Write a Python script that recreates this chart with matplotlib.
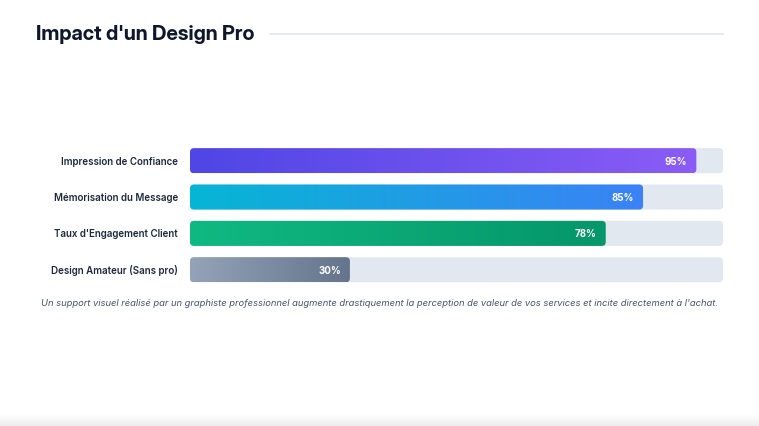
import numpy as np
import matplotlib.pyplot as plt
from matplotlib.patches import FancyBboxPatch
from matplotlib.colors import LinearSegmentedColormap

plt.rcParams["font.family"] = ["Inter", "DejaVu Sans"]

categories = [
    "Impression de Confiance",
    "Mémorisation du Message",
    "Taux d'Engagement Client",
    "Design Amateur (Sans pro)",
]
values = [95, 85, 78, 30]
gradients = [
    ("#4F46E5", "#8B5CF6"),
    ("#06B6D4", "#3B82F6"),
    ("#10B981", "#059669"),
    ("#94A3B8", "#64748B"),
]
title = "Impact d'un Design Pro"
caption = ("Un support visuel réalisé par un graphiste professionnel augmente drastiquement "
           "la perception de valeur de vos services et incite directement à l'achat.")

W, H = 759, 427
fig = plt.figure(figsize=(W / 100, H / 100), dpi=100)
fig.patch.set_facecolor("white")

# bar area in pixels: x 190..723, rows centred at 161..270
left, right = 190, 723
y_top, y_bot = 143.5, 288.9
ax = fig.add_axes([left / W, 1 - y_bot / H, (right - left) / W, (y_bot - y_top) / H])
ax.set_xlim(0, 100)
ax.set_ylim(len(categories) - 0.5, -0.5)
ax.axis("off")

bar_h = 0.69
px_x = (right - left) / 100
px_y = (y_bot - y_top) / len(categories)
aspect = px_x / px_y
radius = 4 / px_x


def rounded(x0, y0, w, h, color="none"):
    return FancyBboxPatch(
        (x0, y0), w, h,
        boxstyle=f"round,pad=0,rounding_size={radius}",
        mutation_aspect=aspect,
        facecolor=color, edgecolor="none",
    )


for i, (name, val, (c0, c1)) in enumerate(zip(categories, values, gradients)):
    y0 = i - bar_h / 2
    ax.add_patch(rounded(0, y0, 100, bar_h, "#E2E8F0"))

    cmap = LinearSegmentedColormap.from_list(f"g{i}", [c0, c1])
    grad = np.linspace(0, 1, 256).reshape(1, -1)
    im = ax.imshow(grad, cmap=cmap, aspect="auto",
                   extent=(0, val, y0 + bar_h, y0), zorder=2)
    clip = rounded(0, y0, val, bar_h)
    ax.add_patch(clip)
    im.set_clip_path(clip)

    ax.text(val - 9 / px_x, i, f"{val}%", ha="right", va="center",
            color="white", fontsize=7, fontweight="bold", zorder=3)
    ax.text(-12 / px_x, i, name, ha="right", va="center",
            color="#1E293B", fontsize=7, fontweight="semibold")

ax.set_xlim(0, 100)
ax.set_ylim(len(categories) - 0.5, -0.5)

# title and rule
fig.text(36 / W, 1 - 35 / H, title, ha="left", va="center",
         fontsize=14.7, fontweight="bold", color="#0F172A",
         family=["Inter Display", "Inter", "DejaVu Sans"])
fig.add_artist(plt.Line2D([270 / W, 723 / W], [1 - 35 / H, 1 - 35 / H],
                          color="#E2E8F0", linewidth=1.2))

fig.text(380 / W, 1 - 304 / H, caption, ha="center", va="center",
         fontsize=6.77, style="italic", color="#475569")

# soft shadow at the bottom edge
sh = fig.add_axes([0, 0, 1, 12 / H])
sh.imshow(np.linspace(0, 1, 32).reshape(-1, 1),
          cmap=LinearSegmentedColormap.from_list("sh", ["#FFFFFF", "#EEEEEE"]),
          aspect="auto", extent=(0, 1, 0, 1), origin="upper")
sh.axis("off")

fig.savefig("out.png", dpi=100, facecolor="white")
